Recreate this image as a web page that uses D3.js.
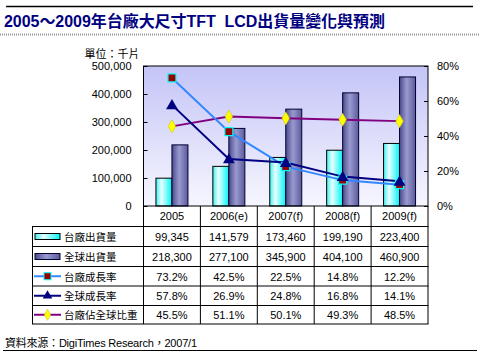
<!DOCTYPE html>
<html><head><meta charset="utf-8">
<script src="https://cdn.jsdelivr.net/npm/d3@7"></script>
<style>
html,body{margin:0;padding:0;background:#fff;}
svg{display:block;}
text{font-family:"Liberation Sans",Arial,"Noto Sans CJK TC",sans-serif;white-space:pre;}
</style></head>
<body>
<svg id="c" width="479" height="356"></svg>
<script>
const categories = ["2005","2006(e)","2007(f)","2008(f)","2009(f)"];
const taiwanShip = [99345,141579,173460,199190,223400];
const globalShip = [218300,277100,345900,404100,460900];
const taiwanGrowth = [73.2,42.5,22.5,14.8,12.2];
const globalGrowth = [57.8,26.9,24.8,16.8,14.1];
const taiwanShare = [45.5,51.1,50.1,49.3,48.5];
const leftTicks = [0,100000,200000,300000,400000,500000];
const rightTicks = [0,20,40,60,80];
const title = "2005～2009年台廠大尺寸TFT  LCD出貨量變化與預測";
const unitLabel = "單位：千片";
const source = "資料來源：DigiTimes Research，2007/1";
const rowNames = ["台廠出貨量","全球出貨量","台廠成長率","全球成長率","台廠佔全球比重"];

const svg = d3.select("#c");
const defs = svg.append("defs");
const L = 143.5, R = 428, T = 66, B = 206;

// gradients
const bg = defs.append("linearGradient").attr("id","bg").attr("x1",0).attr("y1",0).attr("x2",0).attr("y2",1);
bg.append("stop").attr("offset","0%").attr("stop-color","#c4c4f8");
bg.append("stop").attr("offset","55%").attr("stop-color","#e0e0fb");
bg.append("stop").attr("offset","100%").attr("stop-color","#f6f6ff");
const gc = defs.append("linearGradient").attr("id","gc").attr("x1",0).attr("y1",0).attr("x2",1).attr("y2",0);
gc.append("stop").attr("offset","0%").attr("stop-color","#40f0f0");
gc.append("stop").attr("offset","35%").attr("stop-color","#e8ffff");
gc.append("stop").attr("offset","100%").attr("stop-color","#00f4f4");
const gg = defs.append("linearGradient").attr("id","gg").attr("x1",0).attr("y1",0).attr("x2",1).attr("y2",0);
gg.append("stop").attr("offset","0%").attr("stop-color","#4a4a8c");
gg.append("stop").attr("offset","45%").attr("stop-color","#9a9ad0");
gg.append("stop").attr("offset","100%").attr("stop-color","#5a5a9c");

// title & rules
svg.append("line").attr("x1",6).attr("x2",473).attr("y1",6.5).attr("y2",6.5).attr("stroke","#000").attr("stroke-width",1.5);
svg.append("text").attr("x",4).attr("y",27).attr("font-size",16).attr("font-weight","bold").attr("fill","#000080").attr("textLength",381).attr("xml:space","preserve").text(title);
svg.append("line").attr("x1",0).attr("x2",479).attr("y1",34.5).attr("y2",34.5).attr("stroke","#9a9a9a").attr("stroke-width",2).attr("stroke-dasharray","1,1");

// scales
const x = d3.scaleBand().domain(categories).range([L,R]);
const yL = d3.scaleLinear().domain([0,500000]).range([B,T]);
const yR = d3.scaleLinear().domain([0,80]).range([B,T]);
const inner = d3.scaleBand().domain(["tw","gl"]).range([-16,16]);

svg.append("rect").attr("x",L).attr("y",T).attr("width",R-L).attr("height",B-T).attr("fill","url(#bg)");

// axes
const ax = svg.append("g").attr("transform",`translate(${L},0)`)
  .call(d3.axisLeft(yL).tickValues(leftTicks).tickSize(-4).tickPadding(12).tickFormat(d3.format(",")));
ax.select(".domain").remove();
ax.selectAll("text").attr("font-size",11).attr("font-family","Liberation Sans, Arial");
const axr = svg.append("g").attr("transform",`translate(${R},0)`)
  .call(d3.axisRight(yR).tickValues(rightTicks).tickSize(-4).tickPadding(9).tickFormat(d=>d+"%"));
axr.select(".domain").remove();
axr.selectAll("text").attr("font-size",11).attr("font-family","Liberation Sans, Arial");
svg.append("text").attr("x",112).attr("y",58).attr("font-size",11).attr("text-anchor","middle").text(unitLabel);

// bars
const cx = c => x(c)+x.bandwidth()/2;
svg.append("g").selectAll("rect").data(categories).join("rect")
  .attr("x",(c)=>cx(c)+inner("tw")).attr("width",inner.bandwidth())
  .attr("y",(c,i)=>yL(taiwanShip[i])).attr("height",(c,i)=>B-yL(taiwanShip[i]))
  .attr("fill","url(#gc)").attr("stroke","#000").attr("stroke-width",1);
svg.append("g").selectAll("rect").data(categories).join("rect")
  .attr("x",(c)=>cx(c)+inner("gl")).attr("width",inner.bandwidth())
  .attr("y",(c,i)=>yL(globalShip[i])).attr("height",(c,i)=>B-yL(globalShip[i]))
  .attr("fill","url(#gg)").attr("stroke","#000030").attr("stroke-width",1);

svg.append("rect").attr("x",L).attr("y",T).attr("width",R-L).attr("height",B-T).attr("fill","none").attr("stroke","#000").attr("stroke-width",1);

// lines
const line = d3.line().x(d=>d[0]).y(d=>yR(d[1]));
function series(vals,color){
  const pts = categories.map((c,i)=>[cx(c),vals[i]]);
  svg.append("path").attr("d",line(pts)).attr("fill","none").attr("stroke",color).attr("stroke-width",2);
  return pts;
}
const sym = (type,size)=>d3.symbol().type(type).size(size)();
const pShare = series(taiwanShare,"#800080");
const pTw = series(taiwanGrowth,"#3388ff");
const pGl = series(globalGrowth,"#000080");
svg.append("g").selectAll("path").data(pShare).join("path").attr("d",sym(d3.symbolDiamond,50))
  .attr("transform",d=>`translate(${d[0]},${yR(d[1])})`).attr("fill","#ffff00").attr("stroke","#c0c000").attr("stroke-width",0.5);
svg.append("g").selectAll("rect").data(pTw).join("rect")
  .attr("x",d=>d[0]-4).attr("y",d=>yR(d[1])-4).attr("width",8).attr("height",8)
  .attr("fill","#990000").attr("stroke","#00ffff").attr("stroke-width",1.2);
svg.append("g").selectAll("path").data(pGl).join("path").attr("d",sym(d3.symbolTriangle,60))
  .attr("transform",d=>`translate(${d[0]},${yR(d[1])+1})`).attr("fill","#000080");

// table
const rowTop = [226.5,246.5,266.5,286,305.5], rowBot = 324;
const tb = svg.append("g");
tb.selectAll("line.v").data(categories.concat(["_end"])).join("line")
  .attr("x1",(c)=>c==="_end"?R:x(c)).attr("x2",(c)=>c==="_end"?R:x(c))
  .attr("y1",B).attr("y2",rowBot).attr("stroke","#000");
tb.append("line").attr("x1",32.5).attr("x2",32.5).attr("y1",rowTop[0]).attr("y2",rowBot).attr("stroke","#000");
tb.selectAll("line.h").data(rowTop.concat([rowBot])).join("line")
  .attr("x1",32).attr("x2",R+0.5).attr("y1",d=>d).attr("y2",d=>d).attr("stroke","#000");
tb.selectAll("text.cat").data(categories).join("text")
  .attr("x",cx).attr("y",220).attr("text-anchor","middle").attr("font-size",11).text(d=>d);

const fmtN = d3.format(",");
const fmtP = d=>d.toFixed(1)+"%";
const rows = [taiwanShip.map(fmtN), globalShip.map(fmtN), taiwanGrowth.map(fmtP), globalGrowth.map(fmtP), taiwanShare.map(fmtP)];
rows.forEach((r,ri)=>{
  const yb = (ri<4? rowTop[ri+1] : rowBot) - 5.5;
  tb.append("g").selectAll("text").data(r).join("text")
    .attr("x",(d,i)=>cx(categories[i])).attr("y",yb).attr("text-anchor","middle").attr("font-size",11).text(d=>d);
  tb.append("text").attr("x",64).attr("y",yb).attr("font-size",10.5).attr("font-family","Noto Sans CJK TC").text(rowNames[ri]);
});
// legend symbols
const mid = i => ((rowTop[i] + (i<4?rowTop[i+1]:rowBot))/2);
tb.append("rect").attr("x",35).attr("y",mid(0)-3).attr("width",25).attr("height",6).attr("fill","url(#gc)").attr("stroke","#000");
tb.append("rect").attr("x",35).attr("y",mid(1)-3).attr("width",25).attr("height",6).attr("fill","url(#gg)").attr("stroke","#000030");
[[2,"#3388ff"],[3,"#000080"],[4,"#800080"]].forEach(([i,c])=>{
  tb.append("line").attr("x1",34).attr("x2",61).attr("y1",mid(i)).attr("y2",mid(i)).attr("stroke",c).attr("stroke-width",2);
});
tb.append("rect").attr("x",44).attr("y",mid(2)-3.5).attr("width",7).attr("height",7).attr("fill","#990000").attr("stroke","#00ffff");
tb.append("path").attr("d",sym(d3.symbolTriangle,40)).attr("transform",`translate(47.5,${mid(3)})`).attr("fill","#000080");
tb.append("path").attr("d",sym(d3.symbolDiamond,36)).attr("transform",`translate(47.5,${mid(4)})`).attr("fill","#ffff00").attr("stroke","#c0c000").attr("stroke-width",0.5);

// source
svg.append("text").attr("x",5).attr("y",347).attr("font-size",11).attr("textLength",192).text(source);
svg.append("line").attr("x1",3).attr("x2",477).attr("y1",350.5).attr("y2",350.5).attr("stroke","#000").attr("stroke-width",1);
</script>
</body></html>
